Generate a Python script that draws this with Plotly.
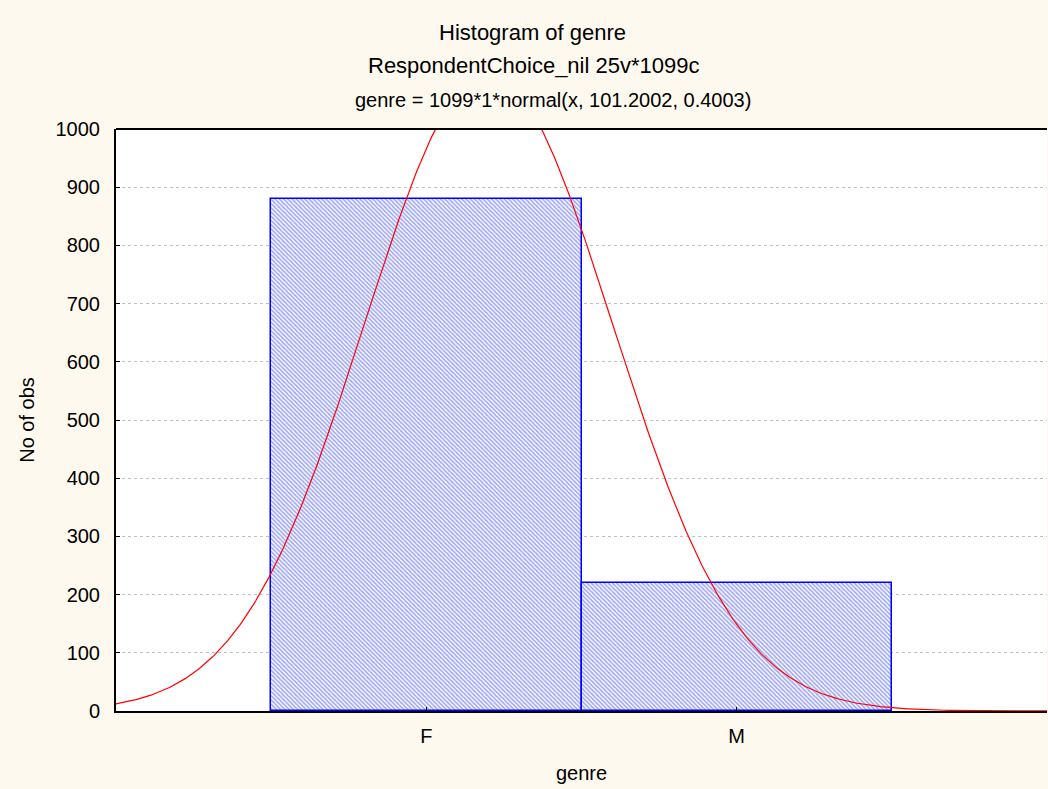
import numpy as np
import plotly.graph_objects as go

categories = ["F", "M"]
codes = [101, 102]
counts = [879, 220]
n_total = 1099
fit_mean = 101.2002
fit_sd = 0.4003
y_ticks = [0, 100, 200, 300, 400, 500, 600, 700, 800, 900, 1000]

xs = np.linspace(100, 103, 600)
ys = n_total * 1 * np.exp(-0.5 * ((xs - fit_mean) / fit_sd) ** 2) / (fit_sd * np.sqrt(2 * np.pi))

font = "Liberation Sans, Arial, sans-serif"
fig = go.Figure()
fig.add_trace(go.Bar(
    x=codes, y=counts, width=1,
    marker=dict(color="white", line=dict(color="#0000FF", width=1.5),
                pattern=dict(shape="\\", fgcolor="#4050f0", bgcolor="white", size=3, solidity=0.55)),
    showlegend=False,
))
fig.add_trace(go.Scatter(x=xs, y=ys, mode="lines", line=dict(color="#FF0000", width=1.2), showlegend=False))

fig.update_layout(
    width=1048, height=789,
    paper_bgcolor="#FEF9EE", plot_bgcolor="white",
    margin=dict(l=116, r=1, t=129, b=78),
    font=dict(family=font, size=20, color="black"),
    bargap=0,
)
fig.update_xaxes(range=[100, 103], tickvals=codes, ticktext=categories, ticks="inside", ticklen=4,
                 tickcolor="black", showgrid=False, showline=True, linecolor="black", linewidth=2,
                 mirror=False, zeroline=False, tickfont=dict(size=20), ticklabelstandoff=6,
                 title=dict(text="genre", font=dict(size=20), standoff=20))
fig.update_yaxes(range=[0, 1000], tickvals=y_ticks, ticks="inside", ticklen=4, tickcolor="black",
                 showgrid=True, gridcolor="#c0c0c0", griddash="dot", gridwidth=1,
                 showline=True, linecolor="black", linewidth=2, zeroline=False,
                 tickfont=dict(size=20), ticklabelstandoff=10,
                 title=dict(text="No of obs", font=dict(size=20), standoff=16))
# top border
fig.add_shape(type="line", xref="paper", yref="paper", x0=0, x1=1, y0=1, y1=1,
              line=dict(color="black", width=2))

plot_w, plot_h = 931, 582
def px_x(p):
    return (p - 116) / plot_w
def px_y(p):
    return 1 + (129 - p) / plot_h

fig.add_annotation(text="Histogram of genre", xref="paper", yref="paper", x=px_x(532), y=px_y(33),
                   xanchor="center", yanchor="middle", showarrow=False, font=dict(size=22))
fig.add_annotation(text="RespondentChoice_nil 25v*1099c", xref="paper", yref="paper", x=px_x(533), y=px_y(66),
                   xanchor="center", yanchor="middle", showarrow=False, font=dict(size=22))
fig.add_annotation(text="genre = 1099*1*normal(x, 101.2002, 0.4003)", xref="paper", yref="paper",
                   x=px_x(553), y=px_y(100), xanchor="center", yanchor="middle", showarrow=False,
                   font=dict(size=20))
fig.write_html("out.html", config={"displayModeBar": False},
               post_script="document.body.style.margin='0';document.body.style.padding='0';")
